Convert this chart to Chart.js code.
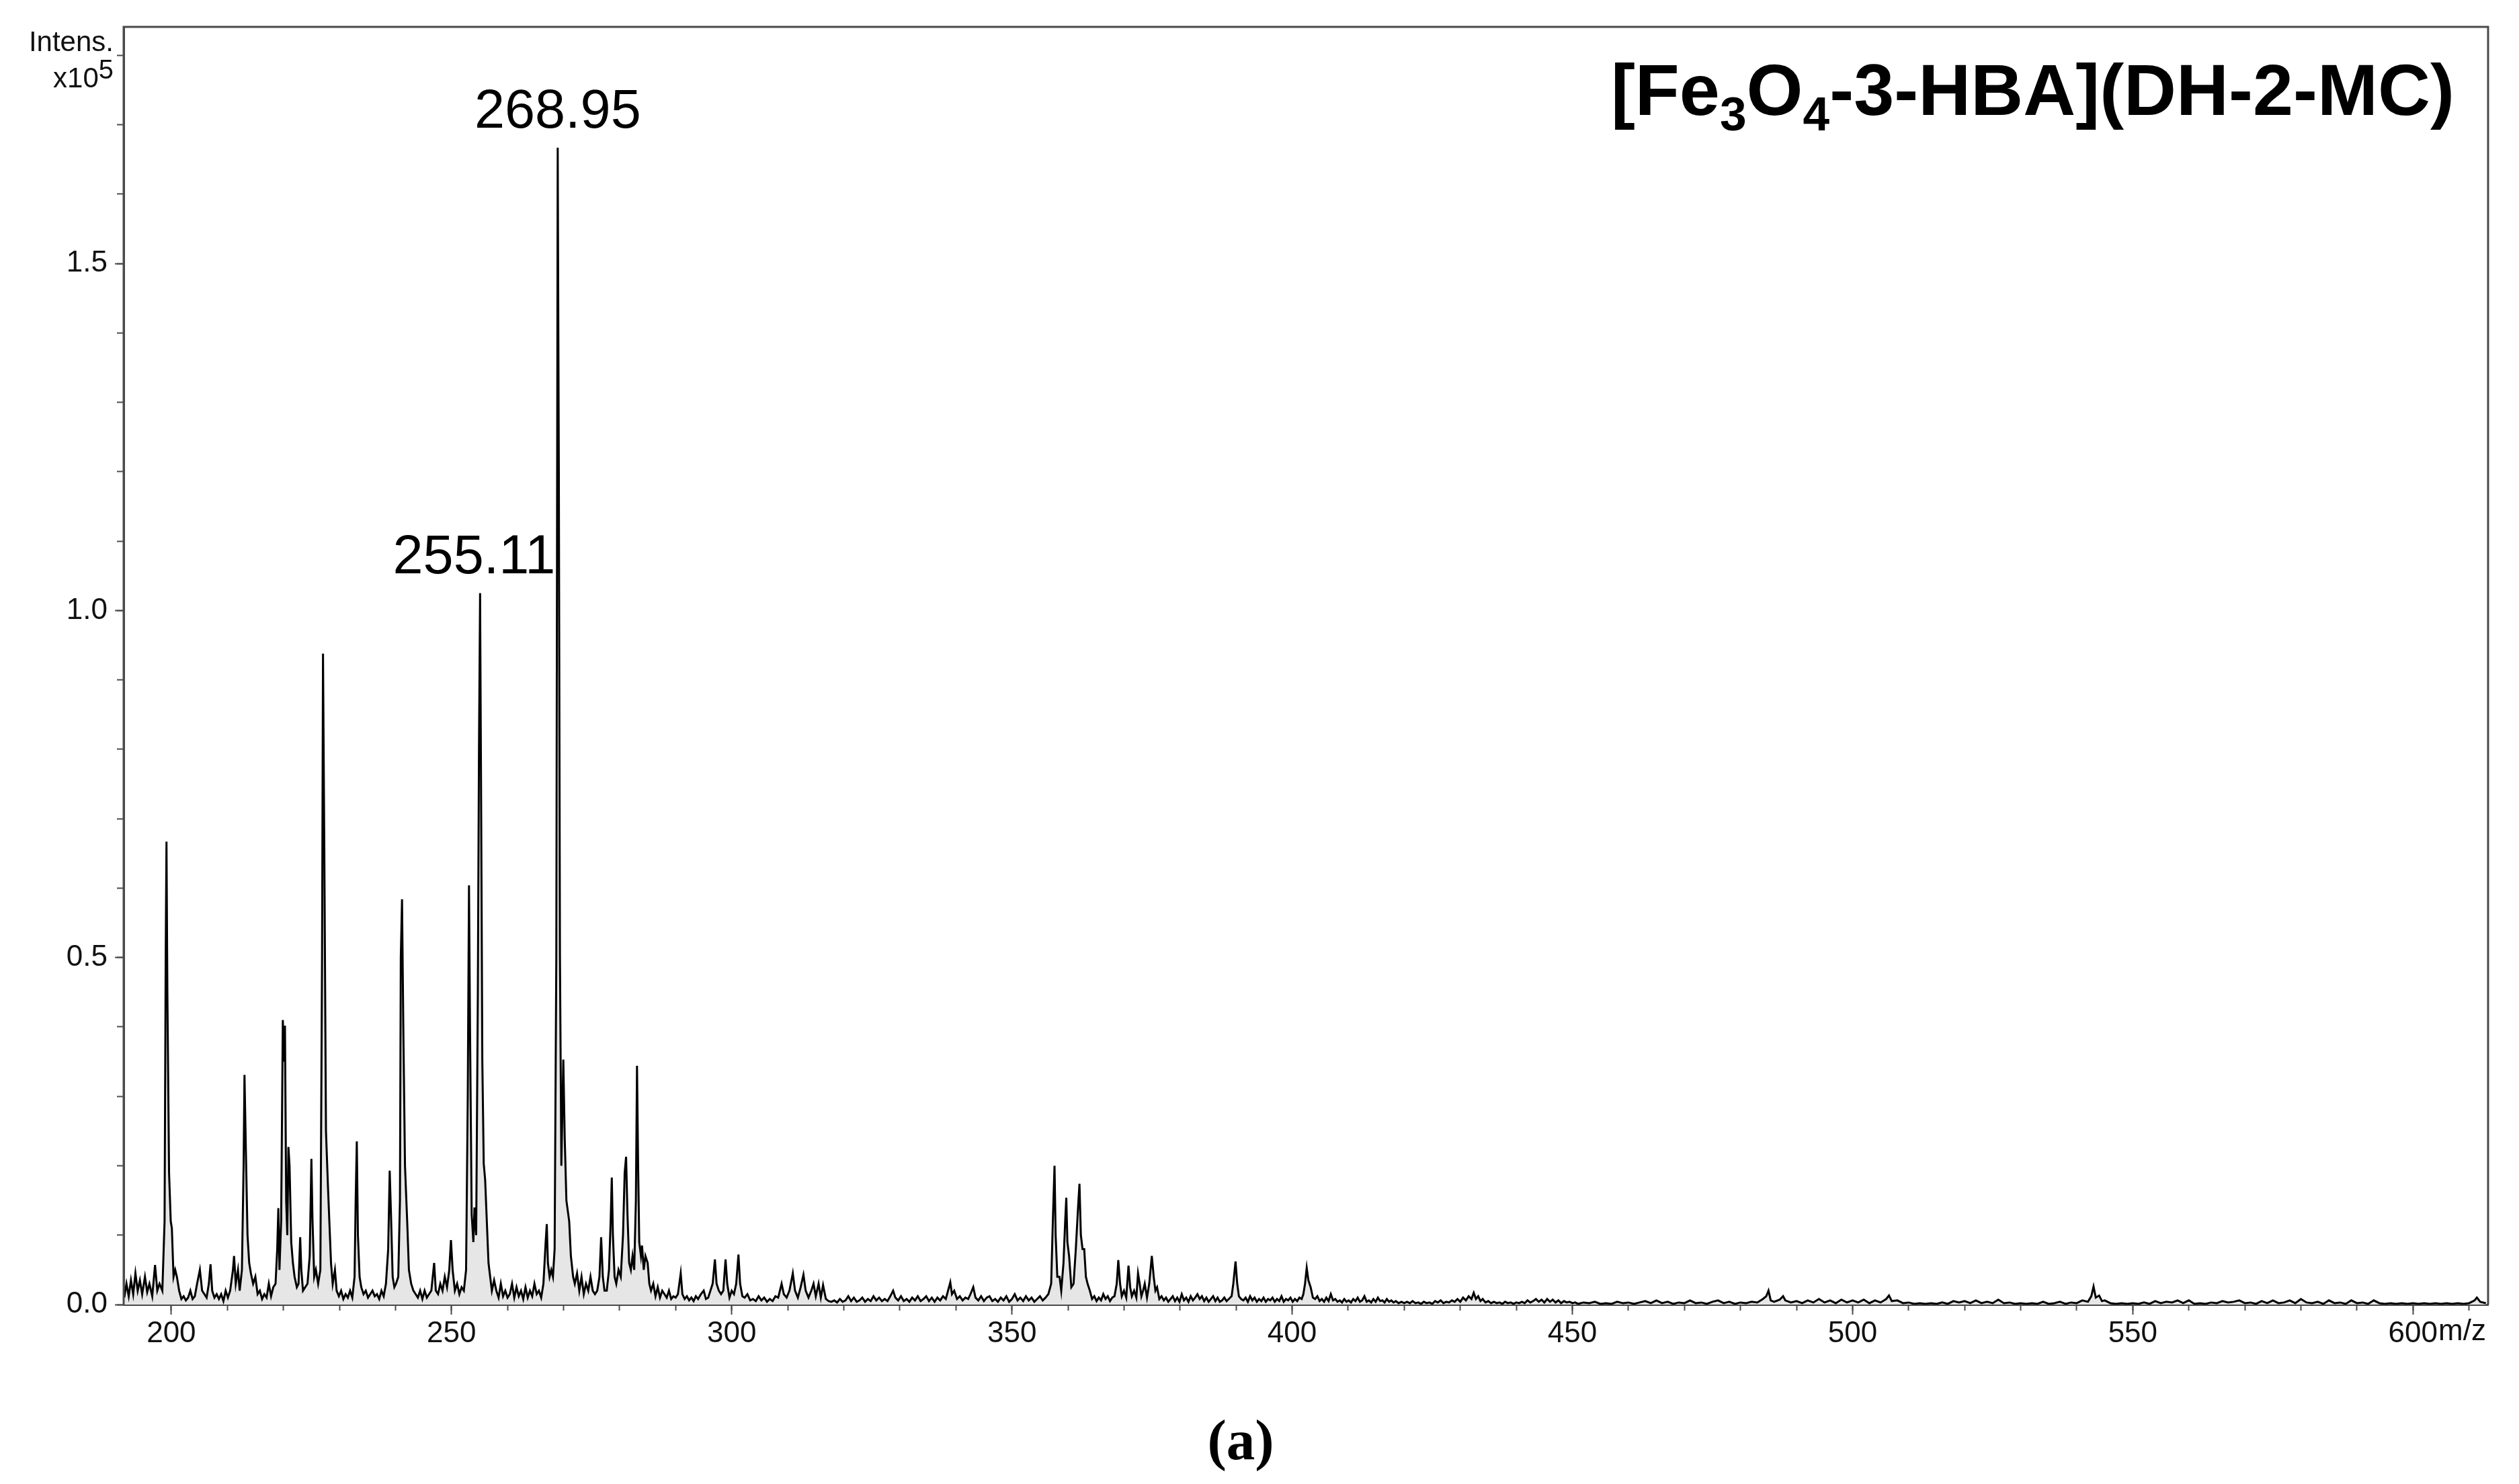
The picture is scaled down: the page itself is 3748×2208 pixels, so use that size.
<!DOCTYPE html>
<html>
<head>
<meta charset="utf-8">
<script src="https://cdn.jsdelivr.net/npm/chart.js@4.4.1/dist/chart.umd.min.js"></script>
<style>
  html, body { margin:0; padding:0; background:#fff; }
  body { width:3748px; height:2208px; position:relative; overflow:hidden; }
  #wrap { position:absolute; left:0; top:0; width:3748px; height:2208px; }
  canvas { display:block; }
  .sans { font-family:"Liberation Sans", Arial, sans-serif; color:#111; position:absolute; white-space:nowrap; }
  #intens { font-size:42px; line-height:42px; right:3579px; top:41px; }
  #mult { font-size:42px; line-height:42px; right:3579px; top:95px; }
  #mult sup { font-size:0.95em; line-height:0; vertical-align:0.32em; }
  #title { font-size:108px; line-height:108px; font-weight:bold; right:96px; top:80px; color:#000; }
  #title sub { font-size:0.66em; line-height:0; vertical-align:-0.32em; }
  #panel { position:absolute; font-family:"Liberation Serif", "DejaVu Serif", serif; font-weight:bold; font-size:85px; line-height:85px; left:1846px; top:2100px; transform:translateX(-50%); color:#000; }
</style>
</head>
<body>
<div id="wrap"><canvas id="c" width="3748" height="2208"></canvas></div>
<div id="intens" class="sans">Intens.</div>
<div id="mult" class="sans">x10<sup>5</sup></div>
<div id="title" class="sans">[Fe<sub>3</sub>O<sub>4</sub>-3-HBA](DH-2-MC)</div>
<div id="panel">(a)</div>
<script>
// ---- DATA: [m/z, intensity (x10^5)] ----
const spectrum191to230 = [
 [191.6,0.010],[192.0,0.030],[192.4,0.012],[192.8,0.035],[193.2,0.015],[193.6,0.045],[194.0,0.020],[194.4,0.035],
 [194.8,0.015],[195.3,0.040],[195.7,0.018],[196.1,0.030],[196.6,0.012],[197.1,0.057],[197.5,0.020],[197.9,0.030],
 [198.4,0.020],[198.8,0.120],[199.0,0.500],[199.14,0.667],[199.3,0.450],[199.6,0.190],[199.9,0.120],[200.1,0.110],
 [200.4,0.040],[200.7,0.050],[201.0,0.040],[201.4,0.020],[201.8,0.008],[202.2,0.012],[202.6,0.006],[203.0,0.010],
 [203.4,0.020],[203.8,0.008],[204.2,0.012],[204.6,0.030],[205.1,0.050],[205.5,0.020],[205.9,0.015],[206.3,0.010],
 [206.7,0.030],[207.0,0.058],[207.3,0.020],[207.7,0.010],[208.1,0.015],[208.5,0.008],[208.9,0.015],[209.3,0.005],
 [209.7,0.020],[210.1,0.010],[210.5,0.020],[211.0,0.050],[211.2,0.070],[211.5,0.030],[211.9,0.050],[212.2,0.020],
 [212.6,0.050],[212.9,0.200],[213.06,0.331],[213.3,0.225],[213.6,0.100],[213.9,0.060],[214.2,0.045],[214.6,0.030],
 [215.0,0.040],[215.4,0.015],[215.8,0.020],[216.2,0.008],[216.6,0.015],[217.0,0.010],[217.4,0.030],[217.8,0.012],
 [218.2,0.025],[218.6,0.030],[218.9,0.080],[219.1,0.139],[219.3,0.050],[219.6,0.120],[219.9,0.410],[220.1,0.350],
 [220.28,0.402],[220.5,0.150],[220.7,0.100],[220.9,0.227],[221.1,0.200],[221.4,0.090],[221.7,0.060],[222.0,0.040],
 [222.4,0.025],[222.7,0.030],[223.0,0.097],[223.2,0.050],[223.5,0.020],[223.9,0.025],[224.3,0.030],[224.7,0.070],
 [225.0,0.210],[225.2,0.120],[225.5,0.040],[225.8,0.050],[226.2,0.030],[226.6,0.050],[226.9,0.500],[227.07,0.938],
 [227.3,0.660],[227.6,0.250],[227.95,0.171],[228.2,0.120],[228.5,0.060],[228.8,0.030],[229.2,0.050],[229.5,0.020],
 [229.9,0.012]
];
const spectrum230to260 = [
 [230.3,0.020],[230.7,0.008],[231.1,0.015],[231.5,0.010],[231.9,0.020],[232.3,0.010],[232.7,0.040],[232.9,0.150],
 [233.1,0.235],[233.3,0.100],[233.6,0.040],[233.9,0.025],[234.3,0.015],[234.7,0.020],[235.1,0.010],[235.5,0.015],
 [235.9,0.020],[236.3,0.012],[236.7,0.015],[237.1,0.008],[237.5,0.020],[237.9,0.012],[238.3,0.030],[238.7,0.080],
 [238.97,0.193],[239.2,0.130],[239.5,0.040],[239.8,0.025],[240.1,0.030],[240.5,0.040],[240.8,0.150],[240.95,0.500],
 [241.17,0.584],[241.4,0.400],[241.7,0.200],[242.1,0.118],[242.4,0.050],[242.8,0.030],[243.2,0.020],[243.6,0.015],
 [244.0,0.010],[244.4,0.020],[244.8,0.008],[245.2,0.020],[245.6,0.010],[246.0,0.015],[246.4,0.020],[246.9,0.060],
 [247.2,0.020],[247.6,0.015],[248.0,0.030],[248.4,0.020],[248.8,0.040],[249.2,0.025],[249.6,0.050],[249.9,0.093],
 [250.2,0.050],[250.6,0.020],[251.0,0.030],[251.4,0.015],[251.8,0.025],[252.2,0.020],[252.6,0.050],[252.9,0.300],
 [253.12,0.604],[253.3,0.400],[253.6,0.130],[253.9,0.090],[254.1,0.140],[254.4,0.100],[254.7,0.450],[254.9,0.800],
 [255.1,1.025],[255.3,0.700],[255.5,0.350],[255.75,0.203],[256.0,0.180],[256.3,0.120],[256.6,0.060],[256.9,0.040],
 [257.2,0.020],[257.6,0.035],[258.0,0.020],[258.4,0.010],[258.8,0.030],[259.2,0.012],[259.6,0.020],[260.0,0.010],
 [260.4,0.015]
];
const spectrum260to302 = [
 [260.8,0.030],[261.2,0.010],[261.6,0.025],[262.0,0.012],[262.4,0.020],[262.8,0.008],[263.2,0.025],[263.6,0.010],
 [264.0,0.020],[264.4,0.012],[264.8,0.030],[265.2,0.015],[265.6,0.020],[266.0,0.010],[266.4,0.030],[266.8,0.090],
 [267.0,0.116],[267.2,0.060],[267.5,0.040],[267.8,0.050],[268.1,0.040],[268.4,0.080],[268.7,0.500],[268.95,1.667],
 [269.15,1.200],[269.35,0.500],[269.6,0.200],[269.95,0.353],[270.2,0.240],[270.5,0.150],[271.0,0.120],[271.3,0.070],
 [271.7,0.040],[272.0,0.030],[272.4,0.045],[272.8,0.020],[273.2,0.040],[273.6,0.015],[274.0,0.030],[274.4,0.020],
 [274.8,0.040],[275.2,0.020],[275.6,0.015],[276.0,0.020],[276.4,0.040],[276.7,0.097],[277.0,0.040],[277.3,0.020],
 [277.7,0.020],[278.1,0.050],[278.4,0.120],[278.6,0.183],[278.8,0.100],[279.1,0.040],[279.4,0.030],[279.8,0.050],
 [280.2,0.040],[280.6,0.100],[280.9,0.190],[281.15,0.213],[281.4,0.130],[281.7,0.060],[282.0,0.050],[282.3,0.070],
 [282.6,0.050],[282.9,0.150],[283.1,0.344],[283.3,0.200],[283.5,0.090],[283.8,0.070],[284.0,0.085],[284.3,0.050],
 [284.6,0.070],[285.0,0.060],[285.3,0.030],[285.6,0.020],[286.0,0.030],[286.4,0.012],[286.8,0.025],[287.2,0.010],
 [287.6,0.020],[288.0,0.015],[288.4,0.010],[288.8,0.020],[289.2,0.008],[289.6,0.012],[290.0,0.010],[290.4,0.015],
 [290.9,0.045],[291.2,0.015],[291.6,0.008],[292.0,0.012],[292.4,0.006],[292.8,0.010],[293.2,0.005],[293.6,0.012],
 [294.0,0.008],[294.5,0.015],[295.0,0.020],[295.4,0.008],[295.8,0.010],[296.2,0.020],[296.6,0.030],[297.0,0.065],
 [297.3,0.030],[297.7,0.020],[298.1,0.015],[298.5,0.020],[298.9,0.065],[299.2,0.030],[299.6,0.010],[300.0,0.020],
 [300.4,0.015],[300.8,0.030],[301.2,0.072],[301.5,0.030],[301.9,0.012]
];
const spectrum302to360 = [
 [302.3,0.010],[302.8,0.015],[303.3,0.006],[303.8,0.008],[304.3,0.005],[304.8,0.012],[305.3,0.006],[305.8,0.010],
 [306.3,0.004],[306.8,0.008],[307.3,0.005],[307.8,0.012],[308.3,0.010],[308.9,0.030],[309.3,0.015],[309.8,0.010],
 [310.3,0.020],[310.9,0.045],[311.3,0.020],[311.8,0.010],[312.3,0.025],[312.8,0.043],[313.2,0.020],[313.7,0.010],
 [314.2,0.020],[314.6,0.030],[315.0,0.012],[315.5,0.030],[315.9,0.010],[316.3,0.028],[316.8,0.008],[317.3,0.005],
 [317.8,0.004],[318.3,0.006],[318.8,0.003],[319.3,0.008],[319.8,0.004],[320.3,0.006],[320.8,0.012],[321.3,0.005],
 [321.8,0.010],[322.3,0.004],[322.8,0.006],[323.3,0.010],[323.8,0.004],[324.3,0.008],[324.8,0.005],[325.3,0.012],
 [325.8,0.006],[326.3,0.010],[326.8,0.005],[327.3,0.008],[327.8,0.005],[328.3,0.012],[328.8,0.020],[329.2,0.010],
 [329.7,0.006],[330.2,0.012],[330.7,0.005],[331.2,0.008],[331.7,0.004],[332.2,0.010],[332.7,0.006],[333.2,0.012],
 [333.7,0.005],[334.2,0.008],[334.7,0.012],[335.2,0.005],[335.7,0.010],[336.2,0.004],[336.7,0.010],[337.2,0.006],
 [337.7,0.012],[338.2,0.008],[338.6,0.020],[339.0,0.032],[339.3,0.015],[339.7,0.020],[340.2,0.008],[340.7,0.012],
 [341.2,0.006],[341.7,0.010],[342.2,0.008],[342.6,0.015],[343.1,0.025],[343.5,0.010],[344.0,0.006],[344.5,0.012],
 [345.0,0.005],[345.5,0.010],[346.0,0.012],[346.5,0.005],[347.0,0.008],[347.5,0.004],[348.0,0.010],[348.5,0.006],
 [349.0,0.012],[349.5,0.004],[350.0,0.008],[350.5,0.015],[351.0,0.006],[351.5,0.010],[352.0,0.005],[352.5,0.012],
 [353.0,0.006],[353.5,0.010],[354.0,0.004],[354.5,0.008],[355.0,0.012],[355.5,0.006],[356.0,0.010],[356.5,0.015],
 [357.0,0.030],[357.3,0.120],[357.6,0.200],[357.8,0.100],[358.1,0.040],[358.5,0.040],[358.8,0.020],[359.2,0.060],
 [359.5,0.120],[359.7,0.154],[359.9,0.090],[360.2,0.070],[360.6,0.025]
];
const spectrum361to420 = [
 [361.0,0.030],[361.4,0.080],[361.8,0.140],[362.05,0.174],[362.3,0.100],[362.6,0.080],[362.9,0.080],[363.2,0.040],
 [363.5,0.030],[363.9,0.020],[364.3,0.008],[364.7,0.012],[365.1,0.005],[365.5,0.010],[365.9,0.006],[366.3,0.015],
 [366.7,0.008],[367.1,0.012],[367.5,0.005],[367.9,0.010],[368.3,0.012],[368.7,0.030],[368.98,0.064],[369.3,0.030],
 [369.6,0.012],[370.0,0.020],[370.4,0.010],[370.8,0.056],[371.1,0.025],[371.4,0.012],[371.8,0.020],[372.2,0.010],
 [372.5,0.045],[372.8,0.030],[373.1,0.012],[373.4,0.020],[373.7,0.030],[374.1,0.010],[374.5,0.030],[374.96,0.070],
 [375.3,0.040],[375.6,0.020],[375.9,0.025],[376.3,0.008],[376.7,0.012],[377.1,0.006],[377.5,0.010],[377.9,0.004],
 [378.3,0.008],[378.7,0.012],[379.1,0.005],[379.5,0.010],[379.9,0.004],[380.3,0.015],[380.7,0.006],[381.1,0.010],
 [381.5,0.004],[381.9,0.012],[382.3,0.006],[382.7,0.010],[383.1,0.015],[383.5,0.008],[383.9,0.012],[384.3,0.005],
 [384.7,0.010],[385.1,0.004],[385.5,0.008],[385.9,0.012],[386.3,0.005],[386.7,0.010],[387.1,0.004],[387.5,0.006],
 [387.9,0.010],[388.3,0.005],[388.7,0.008],[389.2,0.012],[389.5,0.030],[389.9,0.062],[390.2,0.030],[390.5,0.012],
 [390.9,0.008],[391.3,0.006],[391.7,0.010],[392.1,0.004],[392.5,0.012],[392.9,0.006],[393.3,0.010],[393.7,0.004],
 [394.1,0.008],[394.5,0.005],[394.9,0.010],[395.3,0.004],[395.7,0.008],[396.1,0.006],[396.5,0.010],[396.9,0.004],
 [397.3,0.008],[397.7,0.005],[398.1,0.012],[398.5,0.004],[398.9,0.008],[399.3,0.006],[399.7,0.010],[400.1,0.004],
 [400.5,0.008],[400.9,0.005],[401.3,0.010],[401.7,0.008],[402.0,0.015],[402.3,0.030],[402.6,0.053],[402.9,0.035],
 [403.3,0.025],[403.7,0.010],[404.1,0.008],[404.5,0.012],[404.9,0.005],[405.3,0.008],[405.7,0.004],[406.1,0.010],
 [406.5,0.005],[406.9,0.015],[407.3,0.006],[407.7,0.008],[408.1,0.004],[408.5,0.006],[408.9,0.003],[409.3,0.008],
 [409.7,0.004],[410.1,0.006],[410.5,0.003],[410.9,0.008],[411.3,0.005],[411.7,0.010],[412.1,0.004],[412.5,0.006],
 [412.9,0.012],[413.3,0.004],[413.7,0.006],[414.1,0.003],[414.5,0.008],[414.9,0.004],[415.3,0.010],[415.7,0.005],
 [416.1,0.006],[416.5,0.003],[416.9,0.008],[417.3,0.004],[417.7,0.006],[418.1,0.003],[418.5,0.005],[419.0,0.002],
 [419.5,0.004],[420.0,0.002]
];
const spectrum420to500 = [
 [420.5,0.004],[421.0,0.002],[421.5,0.005],[422.0,0.002],[422.5,0.003],[423.0,0.001],[423.5,0.004],[424.0,0.002],
 [424.5,0.003],[425.0,0.001],[425.5,0.005],[426.0,0.003],[426.5,0.006],[427.0,0.002],[427.5,0.004],[428.0,0.003],
 [428.5,0.006],[429.0,0.004],[429.5,0.008],[430.0,0.004],[430.5,0.010],[431.0,0.006],[431.5,0.012],[432.0,0.008],
 [432.4,0.017],[432.8,0.008],[433.2,0.012],[433.6,0.005],[434.0,0.008],[434.5,0.003],[435.0,0.005],[435.5,0.002],
 [436.0,0.004],[436.5,0.002],[437.0,0.003],[437.5,0.001],[438.0,0.004],[438.5,0.002],[439.0,0.003],[439.5,0.001],
 [440.0,0.003],[440.5,0.002],[441.0,0.004],[441.5,0.002],[442.0,0.006],[442.5,0.003],[443.0,0.005],[443.5,0.008],
 [444.0,0.004],[444.5,0.007],[445.0,0.003],[445.5,0.008],[446.0,0.004],[446.5,0.007],[447.0,0.003],[447.5,0.006],
 [448.0,0.002],[448.5,0.005],[449.0,0.003],[449.5,0.004],[450.0,0.002],[450.5,0.003],[451.0,0.001],[452.0,0.003],
 [453.0,0.002],[454.0,0.004],[455.0,0.001],[456.0,0.002],[457.0,0.001],[458.0,0.004],[459.0,0.002],[460.0,0.003],
 [461.0,0.001],[462.0,0.003],[463.0,0.005],[464.0,0.002],[465.0,0.006],[466.0,0.002],[467.0,0.004],[468.0,0.001],
 [469.0,0.003],[470.0,0.002],[471.0,0.006],[472.0,0.002],[473.0,0.003],[474.0,0.001],[475.0,0.004],[476.0,0.006],
 [477.0,0.002],[478.0,0.004],[479.0,0.001],[480.0,0.003],[481.0,0.002],[482.0,0.004],[483.0,0.003],[484.0,0.008],
 [484.6,0.012],[485.0,0.020],[485.4,0.006],[486.0,0.004],[487.0,0.007],[487.6,0.012],[488.0,0.006],[489.0,0.003],
 [490.0,0.005],[491.0,0.002],[492.0,0.006],[493.0,0.003],[494.0,0.008],[495.0,0.003],[496.0,0.006],[497.0,0.002],
 [498.0,0.007],[499.0,0.003],[500.0,0.006]
];
const spectrum501to613 = [
 [501.0,0.003],[502.0,0.007],[503.0,0.002],[504.0,0.006],[505.0,0.003],[506.0,0.008],[506.5,0.013],[507.0,0.005],
 [508.0,0.006],[509.0,0.002],[510.0,0.003],[511.0,0.001],[512.0,0.002],[513.0,0.001],[514.0,0.002],[515.0,0.001],
 [516.0,0.003],[517.0,0.001],[518.0,0.005],[519.0,0.003],[520.0,0.005],[521.0,0.002],[522.0,0.006],[523.0,0.002],
 [524.0,0.004],[525.0,0.002],[526.0,0.007],[527.0,0.002],[528.0,0.003],[529.0,0.001],[530.0,0.002],[531.0,0.001],
 [532.0,0.002],[533.0,0.001],[534.0,0.004],[535.0,0.001],[536.0,0.002],[537.0,0.004],[538.0,0.001],[539.0,0.003],
 [540.0,0.002],[541.0,0.006],[542.0,0.004],[542.6,0.012],[543.0,0.026],[543.4,0.010],[544.0,0.013],[544.5,0.005],
 [545.0,0.006],[546.0,0.002],[547.0,0.001],[548.0,0.002],[549.0,0.001],[550.0,0.002],[551.0,0.001],[552.0,0.003],
 [553.0,0.001],[554.0,0.005],[555.0,0.002],[556.0,0.004],[557.0,0.003],[558.0,0.006],[559.0,0.002],[560.0,0.006],
 [561.0,0.001],[562.0,0.002],[563.0,0.001],[564.0,0.003],[565.0,0.002],[566.0,0.005],[567.0,0.003],[568.0,0.004],
 [569.0,0.006],[570.0,0.002],[571.0,0.003],[572.0,0.001],[573.0,0.005],[574.0,0.002],[575.0,0.006],[576.0,0.002],
 [577.0,0.003],[578.0,0.006],[579.0,0.002],[580.0,0.008],[581.0,0.003],[582.0,0.002],[583.0,0.004],[584.0,0.001],
 [585.0,0.006],[586.0,0.002],[587.0,0.003],[588.0,0.001],[589.0,0.006],[590.0,0.002],[591.0,0.003],[592.0,0.001],
 [593.0,0.006],[594.0,0.002],[595.0,0.001],[596.0,0.002],[597.0,0.001],[598.0,0.002],[599.0,0.001],[600.0,0.002],
 [601.0,0.001],[602.0,0.002],[603.0,0.001],[604.0,0.002],[605.0,0.001],[606.0,0.002],[607.0,0.001],[608.0,0.002],
 [609.0,0.001],[610.0,0.002],[611.0,0.006],[611.4,0.010],[612.0,0.004],[613.0,0.002]
];
const peakLabelMz = [268.95, 255.11];
const peakLabelText = ['268.95', '255.11'];
const xRange = [191.5, 613.4];
const yRange = [0, 1.841];
const xMajorStep = 50, xMinorStep = 10;
const yMajorStep = 0.5, yMinorStep = 0.1;
const xUnit = 'm/z';

// ---- build ----
const points = [].concat(spectrum191to230, spectrum230to260, spectrum260to302,
  spectrum302to360, spectrum361to420, spectrum420to500, spectrum501to613)
  .map(p => ({x: p[0], y: p[1]}));

const AXIS = '#4a4a4a';
const FONT = '"Liberation Sans", Arial, sans-serif';

const framePlugin = {
  id: 'frame',
  afterDatasetsDraw(chart) {
    const {ctx, chartArea: a} = chart;
    ctx.save();
    ctx.strokeStyle = AXIS; ctx.lineWidth = 3;
    ctx.beginPath();
    ctx.moveTo(a.left, a.bottom); ctx.lineTo(a.left, a.top);
    ctx.lineTo(a.right, a.top); ctx.lineTo(a.right, a.bottom);
    ctx.stroke();
    ctx.restore();
  }
};

const labelPlugin = {
  id: 'peakLabels',
  afterDraw(chart) {
    const {ctx} = chart;
    const xs = chart.scales.x, ys = chart.scales.y;
    ctx.save();
    ctx.fillStyle = '#000';
    ctx.font = '81px ' + FONT;
    ctx.textAlign = 'center';
    ctx.textBaseline = 'alphabetic';
    peakLabelMz.forEach((mz, i) => {
      let top = 0;
      points.forEach(p => { if (Math.abs(p.x - mz) < 0.3 && p.y > top) top = p.y; });
      const shift = i === 1 ? -9 : 0;
      ctx.fillText(peakLabelText[i], xs.getPixelForValue(mz) + shift, ys.getPixelForValue(top) - 30);
    });
    // unit after last x tick label
    ctx.font = '44px ' + FONT;
    ctx.fillStyle = '#111';
    ctx.textAlign = 'right';
    ctx.textBaseline = 'middle';
    ctx.fillText(xUnit, chart.chartArea.right - 3, xs.top + 41);
    ctx.restore();
  }
};

new Chart(document.getElementById('c'), {
  type: 'line',
  data: {
    datasets: [{
      data: points,
      borderColor: '#000',
      borderWidth: 3,
      backgroundColor: '#e6e6e6',
      fill: 'origin',
      pointRadius: 0,
      tension: 0,
      xAxisID: 'x',
      yAxisID: 'y'
    }]
  },
  options: {
    responsive: false,
    animation: false,
    devicePixelRatio: 1,
    layout: { padding: { left: 0, top: 40, right: 46, bottom: 167 } },
    plugins: { legend: { display: false }, tooltip: { enabled: false } },
    scales: {
      xMinor: {
        type: 'linear', position: 'bottom', weight: 0,
        min: xRange[0], max: xRange[1],
        afterFit: s => { s.height = 0; },
        border: { display: false },
        grid: { drawOnChartArea: false, drawTicks: true, tickLength: 9, tickWidth: 2, tickColor: AXIS },
        ticks: { display: false, stepSize: xMinorStep, includeBounds: false }
      },
      x: {
        type: 'linear', position: 'bottom', weight: 1,
        min: xRange[0], max: xRange[1],
        afterFit: s => { s.height = 100; },
        border: { display: true, color: AXIS, width: 3 },
        grid: { drawOnChartArea: false, drawTicks: true, tickLength: 15, tickWidth: 2, tickColor: AXIS },
        ticks: { stepSize: xMajorStep, includeBounds: false, padding: 2, maxRotation: 0, autoSkip: false,
                 color: '#111', font: { family: FONT, size: 44 },
                 callback: v => String(Math.round(v)) }
      },
      yMinor: {
        type: 'linear', position: 'left', weight: 0,
        min: yRange[0], max: yRange[1],
        afterFit: s => { s.width = 0; },
        border: { display: false },
        grid: { drawOnChartArea: false, drawTicks: true, tickLength: 10, tickWidth: 2, tickColor: AXIS },
        ticks: { display: false, stepSize: yMinorStep, includeBounds: false }
      },
      y: {
        type: 'linear', position: 'left', weight: 1,
        min: yRange[0], max: yRange[1],
        afterFit: s => { s.width = 184; },
        border: { display: true, color: AXIS, width: 3 },
        grid: { drawOnChartArea: false, drawTicks: true, tickLength: 13, tickWidth: 2, tickColor: AXIS },
        ticks: { stepSize: yMajorStep, includeBounds: false, padding: 11, autoSkip: false,
                 color: '#111', font: { family: FONT, size: 44 },
                 callback: v => v.toFixed(1) }
      }
    }
  },
  plugins: [framePlugin, labelPlugin]
});
</script>
</body>
</html>
